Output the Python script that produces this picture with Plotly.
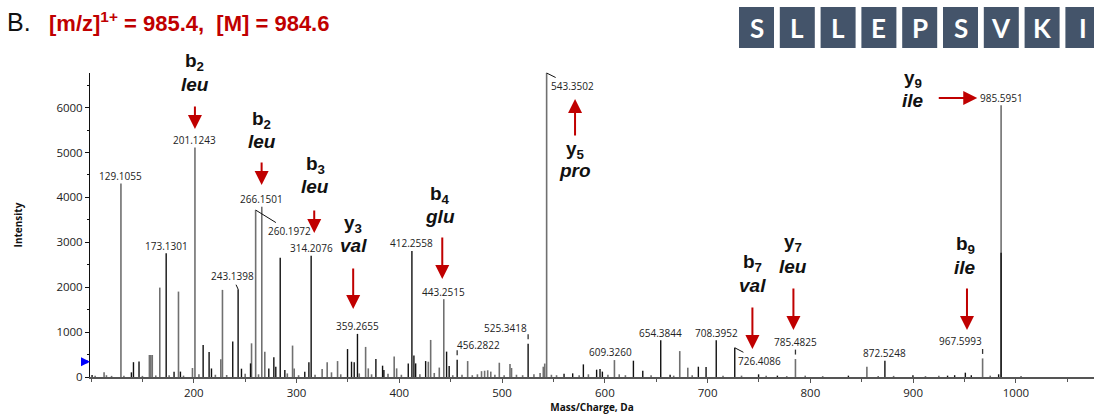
import plotly.graph_objects as go

# ---------------------------------------------------------------------------
# MS/MS fragment spectrum of SLLEPSVKI
# ---------------------------------------------------------------------------
PRECURSOR_MZ = 985.4
NEUTRAL_MASS = 984.6
SEQUENCE = ["S", "L", "L", "E", "P", "S", "V", "K", "I"]
THRESHOLD = 340  # intensity threshold marker on the y axis

# grey (fragment) peaks: m/z and intensity
GREY_MZ = [112.7, 129.1055, 156.8, 158.2, 159.6, 166.9, 185.1, 198.7, 201.1243,
           226.3, 227.9, 256.2, 260.1972, 266.1501, 269.1, 296.1, 297.7, 324.9,
           329.8, 334.0, 339.9, 367.2, 369.8, 395.0, 397.4, 428.2, 430.5, 438.9,
           443.2515, 466.5, 480.0, 483.0, 486.0, 489.0, 497.3, 507.7, 509.2,
           540.1, 541.5, 543.3502, 609.3260, 672.9, 680.7, 785.4825, 855.0,
           967.5993, 985.5951,
           104, 115, 120, 132, 150, 163, 176, 190, 205, 221, 232, 250, 263,
           291, 302, 318, 343, 361, 373, 389, 402, 420, 434, 452, 461, 471,
           476, 493, 502, 514, 520, 531, 537, 548, 553, 575, 584, 603, 614,
           620, 645, 667, 685, 715, 733, 757, 777, 795, 812, 866, 881, 912,
           925, 975, 1005]
GREY_INT = [104, 4311, 490, 490, 490, 1991, 1902, 200, 5111,
            395, 1940, 750, 3718, 3792, 562, 700, 192, 178,
            326, 104, 355, 670, 192, 455, 192, 340, 825, 210,
            1733, 355, 130, 140, 150, 120, 318, 289, 200,
            229, 300, 7400, 377, 577, 207, 400, 229,
            414, 6051,
            30, 40, 25, 30, 25, 35, 40, 30, 60, 50, 45, 70, 60,
            80, 40, 50, 60, 80, 60, 70, 50, 60, 90, 40, 50, 40,
            60, 50, 40, 50, 40, 60, 90, 50, 40, 40, 60, 50, 60,
            40, 40, 30, 40, 30, 30, 30, 20, 30, 20, 20, 25, 20,
            30, 30, 20]

# black (precursor-related) peaks: m/z and intensity
BLACK_MZ = [101.0, 139.3, 141.3, 146.7, 173.1301, 180.8, 187.0, 209.1, 214.9,
            217.2, 237.9, 243.1398, 246.4, 255.2, 273.0, 277.9, 279.8, 284.1,
            288.6, 308.0, 312.0, 314.2076, 349.6, 353.5, 356.1, 359.2655, 377.2,
            383.7, 385.0, 408.7, 412.2558, 414.2, 415.9, 425.6, 446.0, 448.5,
            456.2822, 525.3418, 560.3, 568.7, 579.1, 592.0, 595.3, 597.6, 627.8,
            636.9, 654.3844, 663.5, 691.0, 698.5, 708.3952, 726.4086, 749.6,
            767.9, 837.0, 872.5248, 899.8, 933.5, 940.4, 950.8, 956.6, 983.2,
            985.6]
BLACK_INT = [44, 104, 330, 345, 2755, 118, 120, 715, 555,
             190, 790, 1955, 185, 303, 192, 440, 229, 2655,
             155, 118, 326, 2702, 622, 340, 326, 960, 400,
             252, 155, 303, 2807, 480, 303, 355, 565, 244,
             384, 741, 74, 81, 281, 163, 178, 120, 363,
             140, 821, 50, 229, 222, 821, 651, 59,
             30, 30, 363, 40, 30, 40, 96, 40, 60,
             2769]

# peaks carrying an m/z label
LABELLED_MZ = [129.1055, 173.1301, 201.1243, 243.1398, 260.1972, 266.1501,
               314.2076, 359.2655, 412.2558, 443.2515, 456.2822, 525.3418,
               543.3502, 609.3260, 654.3844, 708.3952, 726.4086, 785.4825,
               872.5248, 967.5993, 985.5951]

# fragment ion assignments
ION_NAMES = ["b<sub>2</sub>", "b<sub>2</sub>", "b<sub>3</sub>", "y<sub>3</sub>",
             "b<sub>4</sub>", "y<sub>5</sub>", "b<sub>7</sub>", "y<sub>7</sub>",
             "b<sub>9</sub>", "y<sub>9</sub>"]
ION_RESIDUES = ["leu", "leu", "leu", "val", "glu", "pro", "val", "leu", "ile", "ile"]

# ---------------------------------------------------------------------------
X_MIN, X_MAX = 99, 1076
Y_MAX = 6770
L, T, B, W, H = 90, 73, 39, 1094, 416
PLOT_W = W - L
PLOT_H = H - T - B

RED = "#C00000"
GREY = "#707070"
INK = "#111111"
TICK_FONT = dict(family="Open Sans", size=11.5, color="#222")
LABEL_FONT = dict(family="Open Sans", size=10, color="#222")
ION_FONT = dict(family="Liberation Sans, Arial", size=19, color="#111")


def px_x(px):
    return (px - L) / PLOT_W


def px_y(py):
    return (H - B - py) / PLOT_H


def stems(mzs, ints, lo=None, hi=None):
    xs, ys = [], []
    for m, i in zip(mzs, ints):
        xs += [m, m, None]
        if lo is None:
            ys += [0, i, None]
        else:
            ys += [i + lo, i + hi, None]
    return xs, ys


fig = go.Figure()

gx, gy = stems(GREY_MZ, GREY_INT)
fig.add_trace(go.Scatter(x=gx, y=gy, mode="lines", line=dict(color=GREY, width=1.6),
                         hoverinfo="skip", showlegend=False))
bx, by = stems(BLACK_MZ, BLACK_INT)
fig.add_trace(go.Scatter(x=bx, y=by, mode="lines", line=dict(color=INK, width=1.4),
                         hoverinfo="skip", showlegend=False))

intensity_of = {}
for m, i in zip(GREY_MZ, GREY_INT):
    intensity_of[m] = i
for m, i in zip(BLACK_MZ, BLACK_INT):
    intensity_of.setdefault(m, i)

# short broken ticks above a few labelled peaks
DASHED = [456.2822, 525.3418, 785.4825, 967.5993]
dx, dy = stems(DASHED, [intensity_of[m] for m in DASHED], lo=100, hi=210)
fig.add_trace(go.Scatter(x=dx, y=dy, mode="lines", line=dict(color="#333", width=1.3),
                         hoverinfo="skip", showlegend=False))

annotations = []

# m/z labels
LEADERS = {243.1398: (-6, -13), 260.1972: (34, 21), 543.3502: (26, 13), 726.4086: (25, 13)}
OFFSETS = {  # (xanchor, xshift, yshift)
    456.2822: ("left", -2, 15),
    525.3418: ("right", 1, 16),
    785.4825: ("center", 0, 17),
    967.5993: ("right", 1, 17),
    609.3260: ("center", -4, 8),
}
for m in LABELLED_MZ:
    txt = f"{m:.4f}"
    inten = min(intensity_of[m], Y_MAX)
    if m in LEADERS:
        ax, ay = LEADERS[m]
        annotations.append(dict(x=m, y=inten, xref="x", yref="y", text=txt, font=LABEL_FONT,
                                showarrow=True, arrowhead=0, arrowwidth=1, arrowcolor="#111",
                                ax=ax, ay=ay, standoff=0))
    else:
        xa, xs, ys = OFFSETS.get(m, ("center", 0, 7.5))
        annotations.append(dict(x=m, y=inten, xref="x", yref="y", text=txt, font=LABEL_FONT,
                                showarrow=False, xanchor=xa, yanchor="middle",
                                xshift=xs, yshift=ys))

# ion assignments: text x (m/z), name y (px), residue y (px), arrow x, tail y, head y
ION_LAYOUT = [
    (201.1, 62, 84, 201.1, 105, 129),
    (266.0, 120, 141, 266.0, 161, 185),
    (318.0, 165, 186, 317.2, 209, 233),
    (355.1, 224, 245, 355.1, 267, 309),
    (439.5, 195, 216, 441.8, 236, 279),
    (571.0, 150, 170, 571.0, 137, 99),
    (743.6, 263, 285, 743.6, 306, 349),
    (783.5, 243, 266, 783.5, 287, 330),
    (950.7, 245, 267, 952.4, 287, 330),
]
for (name, res, lay) in zip(ION_NAMES, ION_RESIDUES, ION_LAYOUT):
    tx, ny, ry, axm, tail, head = lay
    annotations.append(dict(x=tx, y=px_y(ny), xref="x", yref="paper", text=f"<b>{name}</b>",
                            font=ION_FONT, showarrow=False, yanchor="middle"))
    annotations.append(dict(x=tx, y=px_y(ry), xref="x", yref="paper", text=f"<b><i>{res}</i></b>",
                            font=ION_FONT, showarrow=False, yanchor="middle"))
    annotations.append(dict(x=axm, y=px_y(head), xref="x", yref="paper", text="",
                            showarrow=True, arrowhead=2, arrowsize=1.4, arrowwidth=2,
                            arrowcolor=RED, ax=0, ay=tail - head, standoff=0))

# y9 ion with horizontal arrow
annotations.append(dict(x=900.1, y=px_y(79), xref="x", yref="paper", text=f"<b>{ION_NAMES[9]}</b>",
                        font=ION_FONT, showarrow=False, yanchor="middle"))
annotations.append(dict(x=900.1, y=px_y(100), xref="x", yref="paper",
                        text=f"<b><i>{ION_RESIDUES[9]}</i></b>",
                        font=ION_FONT, showarrow=False, yanchor="middle"))
annotations.append(dict(x=962.4, y=px_y(98), xref="x", yref="paper", text="",
                        showarrow=True, arrowhead=2, arrowsize=1.4, arrowwidth=2,
                        arrowcolor=RED, ax=-40, ay=0, standoff=0))

# threshold marker
annotations.append(dict(x=X_MIN, y=THRESHOLD, xref="x", yref="y", text="",
                        showarrow=True, arrowhead=2, arrowsize=0.6, arrowwidth=3,
                        arrowcolor="#0000FF", ax=-9, ay=0, standoff=0))

# panel heading
annotations.append(dict(x=px_x(5), y=px_y(22), xref="paper", yref="paper", text="B.",
                        font=dict(family="Liberation Sans, Arial", size=25, color="#111"),
                        showarrow=False, xanchor="left", yanchor="middle"))
annotations.append(dict(x=px_x(47), y=px_y(22), xref="paper", yref="paper",
                        text=f"<b>[m/z]<sup>1+</sup> = {PRECURSOR_MZ},\u00a0 [M] = {NEUTRAL_MASS}</b>",
                        font=dict(family="Liberation Sans, Arial", size=22, color=RED),
                        showarrow=False, xanchor="left", yanchor="middle"))

# peptide sequence boxes
shapes = []
for k, aa in enumerate(SEQUENCE):
    left = 739 + 40.8 * k
    shapes.append(dict(type="rect", xref="paper", yref="paper",
                       x0=px_x(left), x1=px_x(left + 35), y0=px_y(48), y1=px_y(7),
                       fillcolor="#44546A", line=dict(width=0), layer="above"))
    annotations.append(dict(x=px_x(left + 17.5), y=px_y(28), xref="paper", yref="paper",
                            text=f"<b>{aa}</b>",
                            font=dict(family="Lato", size=26, color="white"),
                            showarrow=False, xanchor="center", yanchor="middle"))

fig.update_layout(
    width=W, height=H,
    margin=dict(l=L, r=0, t=T, b=B, autoexpand=False),
    paper_bgcolor="white", plot_bgcolor="white",
    showlegend=False,
    annotations=annotations,
    shapes=shapes,
)
fig.update_xaxes(
    range=[X_MIN, X_MAX], tickvals=list(range(200, 1001, 100)),
    showline=True, linecolor="#555", linewidth=1.5,
    ticks="outside", ticklen=4, tickcolor="#555", tickfont=TICK_FONT,
    minor=dict(dtick=50, tick0=0, ticks="outside", ticklen=3, tickcolor="#555"),
    showgrid=False, zeroline=False,
    title=dict(text="<b>Mass/Charge, Da</b>", font=dict(family="Open Sans", size=10, color="#111"),
               standoff=4),
)
fig.update_yaxes(
    range=[0, Y_MAX], tickvals=list(range(0, 6001, 1000)),
    showline=True, linecolor="#111", linewidth=1,
    ticks="outside", ticklen=4, tickcolor="#111", tickfont=TICK_FONT,
    minor=dict(dtick=500, tick0=0, ticks="outside", ticklen=2, tickcolor="#111"),
    showgrid=False, zeroline=False,
    title=dict(text="<b>Intensity</b>", font=dict(family="Open Sans", size=10, color="#111"),
               standoff=31),
)

fig.write_html("out.html")
